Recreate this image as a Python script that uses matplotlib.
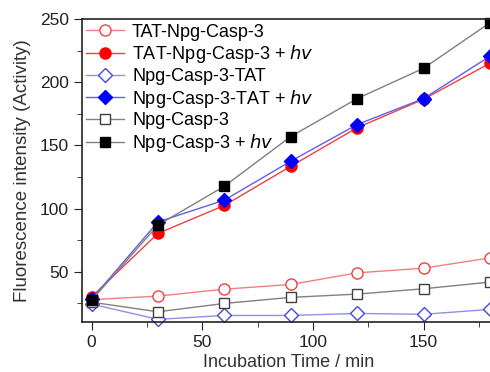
import matplotlib
matplotlib.use("Agg")
import matplotlib.pyplot as plt
from matplotlib.ticker import MultipleLocator

plt.rcParams["font.family"] = ["Liberation Sans", "DejaVu Sans"]

time = [0, 30, 60, 90, 120, 150, 180]

tat_npg = [28, 30.8, 36.3, 40, 49.2, 52.9, 61]
tat_npg_hv = [30.2, 80.4, 102.5, 133.5, 164, 186.5, 215]
npg_tat = [24.5, 12.4, 15.5, 15.5, 17.1, 16.4, 20.3]
npg_tat_hv = [28.4, 89.5, 106.7, 137.5, 166.5, 187, 220.5]
npg = [26, 18.4, 25, 29.8, 32.4, 36.6, 41.9]
npg_hv = [27.5, 87, 117.7, 157, 187, 211, 247]

labels = [
    "TAT-Npg-Casp-3",
    "TAT-Npg-Casp-3 + $\\it{hv}$",
    "Npg-Casp-3-TAT",
    "Npg-Casp-3-TAT + $\\it{hv}$",
    "Npg-Casp-3",
    "Npg-Casp-3 + $\\it{hv}$",
]

fig = plt.figure(figsize=(4.9, 3.72), dpi=100)
ax = fig.add_axes([0.167, 0.135, 0.845, 0.814])

ax.plot(time, tat_npg, "-o", color="#f08080", mfc="white", mec="#f04040",
        ms=8, lw=1, label=labels[0])
ax.plot(time, tat_npg_hv, "-o", color="#f04040", mfc="#ff0000", mec="#ff0000",
        ms=8, lw=1, label=labels[1])
ax.plot(time, npg_tat, "-D", color="#9090e8", mfc="white", mec="#4848d8",
        ms=7, lw=1, label=labels[2])
ax.plot(time, npg_tat_hv, "-D", color="#6060e8", mfc="#0000ff", mec="#0000ff",
        ms=7, lw=1, label=labels[3])
ax.plot(time, npg, "-s", color="#808080", mfc="white", mec="#404040",
        ms=7, lw=1, label=labels[4])
ax.plot(time, npg_hv, "-s", color="#808080", mfc="black", mec="black",
        ms=7, lw=1, label=labels[5])

for p in ax.lines:
    p.set_clip_on(False)

ax.set_xlim(-4.4, 182.7)
ax.set_ylim(10.5, 250)
ax.xaxis.set_major_locator(MultipleLocator(50))
ax.xaxis.set_minor_locator(MultipleLocator(25))
ax.yaxis.set_major_locator(MultipleLocator(50))
ax.yaxis.set_minor_locator(MultipleLocator(25))
ax.set_yticks([50, 100, 150, 200, 250])
ax.tick_params(which="both", direction="out", labelsize=12.5, colors="#222222")
ax.tick_params(which="major", length=6)
ax.tick_params(which="minor", length=3.5)
ax.spines["right"].set_visible(False)
for s in ("left", "bottom", "top"):
    ax.spines[s].set_linewidth(1.2)
    ax.spines[s].set_color("#222222")

ax.set_xlabel("Incubation Time / min", fontsize=13, color="#333333",
              labelpad=3)
ax.set_ylabel("Fluorescence intensity (Activity)", fontsize=13.5,
              color="#333333", labelpad=6)

ax.legend(loc="upper left", bbox_to_anchor=(0.01, 0.985), frameon=False,
          fontsize=13, handlelength=2.1, handletextpad=0.45,
          labelspacing=0.15, borderaxespad=0, borderpad=0)

fig.savefig("out.png", dpi=100)
